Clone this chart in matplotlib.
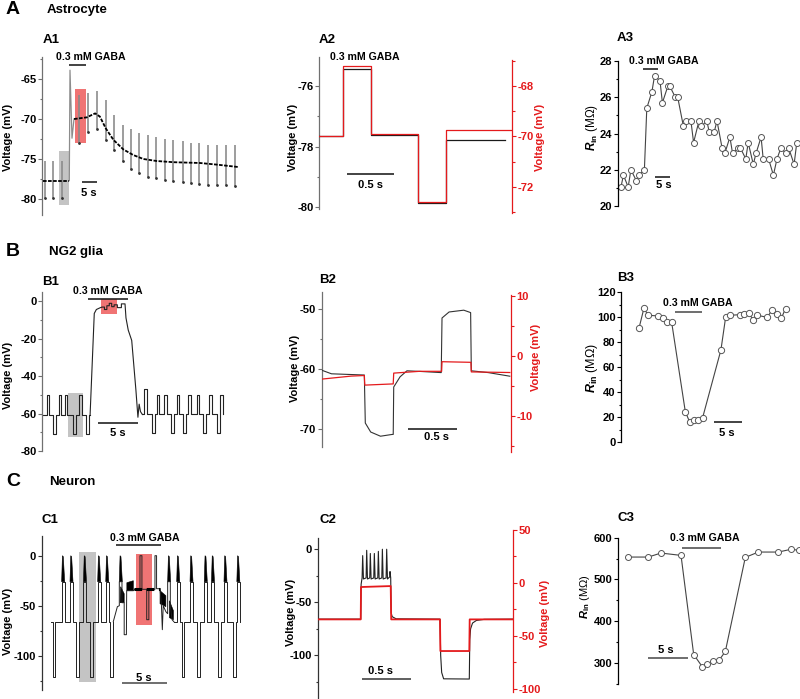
import matplotlib
matplotlib.use('Agg')
import matplotlib.pyplot as plt
from matplotlib.patches import Rectangle, Polygon
from matplotlib.ticker import MultipleLocator

W, H = 800, 699
plt.rcParams['font.family'] = ['Liberation Sans', 'DejaVu Sans']
plt.rcParams['font.weight'] = 'bold'
plt.rcParams['axes.unicode_minus'] = False
plt.rcParams['mathtext.fontset'] = 'custom'
plt.rcParams['mathtext.rm'] = 'Liberation Sans:bold'
plt.rcParams['mathtext.it'] = 'Liberation Sans:italic:bold'
plt.rcParams['mathtext.bf'] = 'Liberation Sans:bold'

RED = '#e41a1c'
# ---------------- data ----------------
# A1 (time s, mV)
a1_pre_t = [0.45, 9.0]
a1_pre_v = [-77.7, -77.7]
a1_jump_t = [9.1, 9.33, 10.0, 10.67]
a1_jump_v = [-77.7, -63.9, -72.4, -70.0]
a1_base_t = [10.67, 14.9, 17.7, 19.3, 21.3, 23.8, 27.1, 30.4, 33.8, 38.2, 43.8, 52.7, 58.2, 65.4]
a1_base_v = [-70.0, -69.8, -69.3, -69.7, -71.2, -72.6, -73.8, -74.5, -75.0, -75.25, -75.4, -75.5, -75.7, -76.0]
a1_pulse_t = [1.0, 3.8, 6.8, 12.4, 15.2, 18.2, 21.3, 24.1, 26.9, 29.7, 32.4, 35.2, 38.0, 41.0,
              43.8, 46.9, 49.7, 52.4, 55.4, 58.2, 61.2, 64.3]
a1_pulse_top = [-75.3, -75.3, -75.3, -67.0, -66.8, -66.5, -67.6, -69.5, -70.75, -71.25, -71.8, -72.0,
                -72.2, -72.5, -72.6, -72.8, -73.0, -73.0, -73.2, -73.25, -73.3, -73.3]
a1_pulse_bot = [-79.9, -79.9, -79.9, -73.0, -71.6, -71.3, -72.6, -73.9, -75.3, -76.2, -76.8, -77.2,
                -77.4, -77.6, -77.8, -77.9, -78.0, -78.1, -78.2, -78.25, -78.3, -78.4]

# A2 steps (s, mV)
a2_black_t = [0, 0.25, 0.547, 1.045, 1.337, 1.96]
a2_black_v = [-77.65, -75.45, -77.6, -79.85, -77.78, -77.78]
a2_red_t = [0, 0.25, 0.547, 1.045, 1.337, 2.03]
a2_red_v = [-70.0, -67.2, -69.9, -72.62, -69.75, -69.75]

# A3 Rin
a3_t = [1.1, 1.9, 3.5, 4.4, 6.2, 7.1, 8.9, 9.7, 11.4, 12.3, 14.1, 14.9, 16.7, 17.4, 19.2, 20.0,
        21.9, 22.7, 24.4, 25.3, 27.1, 27.9, 29.7, 30.5, 32.2, 33.1, 34.8, 35.7, 37.4, 38.3, 40.0,
        40.9, 42.7, 43.5, 45.2, 46.1, 47.8, 48.5, 50.3, 51.9, 53.1, 54.4, 56.1, 57.0, 58.8, 59.7]
a3_r = [21.05, 21.7, 21.05, 22.0, 21.4, 21.7, 22.0, 25.4, 26.3, 27.2, 26.9, 25.7, 26.6, 26.6, 26.0,
        26.0, 24.4, 24.7, 24.7, 23.5, 24.7, 24.4, 24.7, 24.1, 24.1, 24.7, 23.2, 22.9, 23.8, 22.9,
        23.2, 23.2, 22.6, 23.5, 22.3, 22.9, 23.8, 22.6, 22.6, 21.7, 22.6, 23.2, 22.9, 23.2, 22.3, 23.5]

# B1
b1_pre_ups = [0.55, 2.07, 2.81, 4.58]
b1_pre_downs = [1.36, 3.77, 5.42]
b1_gaba_t = [5.92, 6.44, 6.7, 7.2, 7.4, 7.7, 7.7, 8.0, 8.0, 8.3, 8.3, 8.6, 8.6, 8.9, 8.9, 9.3, 9.3,
             9.8, 9.8, 10.25, 10.37, 10.65, 11.08, 11.6, 11.78, 11.85, 12.0, 12.17, 12.4]
b1_gaba_v = [-61, -6.6, -4.5, -3.5, -3.2, -3.2, -4.5, -4.5, -2.5, -2.5, -1.2, -1.2, -3.0, -3.0, -2.0,
             -2.0, -3.5, -3.5, -1.5, -1.5, -9, -15.5, -21, -47.5, -58, -62, -55, -59, -60.5]
b1_post_ups = [12.64, 14.18, 15.12, 16.65, 18.09, 19.13, 20.69, 22.05]
b1_post_up_v = [-47, -50, -50, -50, -50, -50, -50, -50]
b1_post_downs = [13.56, 15.95, 17.4, 19.95, 21.61]

# B2
b2_black_t = [0, 0.1, 0.43, 0.435, 0.445, 0.5, 0.6, 0.72, 0.73, 0.735, 0.8, 0.87, 1.0, 1.22, 1.228,
              1.3, 1.45, 1.52, 1.527, 1.7, 1.92]
b2_black_v = [-60.2, -60.8, -61.0, -61.0, -69.0, -70.5, -71.2, -70.9, -70.9, -63.0, -61.3, -60.3,
              -60.4, -60.6, -51.5, -50.5, -50.2, -50.6, -60.3, -60.6, -61.2]
b2_red_t = [0, 0.3, 0.435, 0.44, 0.73, 0.735, 1.0, 1.224, 1.228, 1.523, 1.527, 1.92]
b2_red_v = [-3.9, -3.4, -3.3, -4.9, -4.7, -2.9, -2.6, -2.6, -1.0, -1.1, -2.7, -2.8]

# B3
b3_t = [3.25, 4.16, 4.88, 6.75, 7.53, 8.31, 9.16, 11.63, 12.41, 13.13, 13.98, 14.76, 18.07, 18.92,
        19.7, 21.5, 22.23, 23.13, 23.92, 24.64, 26.45, 27.29, 28.13, 28.98, 29.76]
b3_r = [91.2, 107.5, 101.6, 101.1, 99.5, 96, 96, 24.5, 16.3, 18.1, 17.6, 19.7, 73.9, 100, 101.6,
        102.1, 102.7, 103.5, 97.6, 101.6, 100, 105.6, 102.7, 99.2, 107]

# C1
c1_pre_ups = [2.25, 3.19, 4.71, 6.31, 7.22]
c1_pre_downs = [1.27, 3.87, 5.5, 7.75]
c1_gaba_t = [8.07, 8.53, 8.75, 8.75, 9.05, 9.05, 9.3, 9.3, 9.55, 9.58, 10.33, 10.5, 11.08, 11.08,
             11.3, 11.3, 11.84, 11.84, 12.08, 12.08, 12.77, 12.77, 12.95, 12.95, 13.34, 13.5, 13.6,
             13.7, 14.0, 14.2, 14.2, 14.5, 14.5, 14.7, 14.9]
c1_gaba_v = [-66, -51, -50, -26, -26, -47, -47, -79, -79, -35, -35, -33.6, -33.6, 0, 0, -33.6,
             -33.6, -64, -64, -33.6, -33.6, 0, 0, -33, -33, -50, -74, -50, -56, -58, -26, -26, -50,
             -64, -66]
c1_gaba_bursts = [8.75, 14.2]
c1_blob_t = [[8.84, 8.9, 9.3, 9.3], [9.6, 9.6, 10.33, 10.33], [13.34, 14.0, 14.0, 13.34],
             [14.4, 14.85, 14.85, 14.4]]
c1_blob_v = [[-47, -31, -38, -47], [-35, -27, -25, -35], [-35, -40, -51, -48], [-45, -55, -64, -62]]
c1_dash_t = [10.4, 13.3]
c1_dash_v = [-33.6, -33.6]
c1_post_ups = [15.22, 16.72, 18.33, 19.14, 20.55, 22.0]
c1_post_downs = [15.78, 17.56, 19.93, 21.62]

# C2
c2_spike_t = [0.459, 0.500, 0.537, 0.578, 0.619, 0.660, 0.704]
c2_spike_peak = [-6, -1, -4, -4, -2, 0, 0]
c2_pre_t = [0.0, 0.439, 0.443]
c2_pre_v = [-65.8, -65.8, -33]
c2_post_t = [0.735, 0.738, 0.745, 0.75, 0.76, 0.8, 1.248, 1.255, 1.265, 1.285, 1.547, 1.552, 1.56,
             1.58, 1.62, 1.7, 1.996]
c2_post_v = [-26, -21, -27, -60, -63.5, -65.5, -65.8, -100, -116, -122, -122.2, -85, -75, -69.5,
             -67, -66, -65.8]
c2_red_t = [0, 0.439, 0.442, 0.745, 0.75, 1.248, 1.252, 1.547, 1.551, 1.996]
c2_red_v = [-34.5, -34.5, -4, -3.1, -34.5, -34.5, -64.3, -64.3, -34.5, -34.5]

# C3
c3_t = [1.27, 3.81, 5.42, 7.97, 9.58, 10.68, 11.31, 12.08, 12.84, 13.6, 16.14, 17.8, 20.34, 21.9, 23.0]
c3_r = [553.6, 553.6, 563.2, 557.6, 320, 290.4, 296.8, 304.8, 307.2, 327.2, 552.8, 565.6, 565.6, 572, 570]

# ---------------- helpers ----------------
fig = plt.figure(figsize=(8, 6.99), dpi=100)


def add_ax(l, t, r, b):
    ax = fig.add_axes([l / W, 1 - b / H, (r - l) / W, (b - t) / H])
    ax.patch.set_alpha(0)
    return ax


def ftext(x, y, s, **kw):
    kw.setdefault('ha', 'left')
    kw.setdefault('va', 'center')
    fig.text(x / W, 1 - y / H, s, **kw)


def style(ax, color, major, minor, side='left', tcolor='black'):
    for s in ['top', 'bottom', 'right', 'left']:
        ax.spines[s].set_visible(s == side)
    ax.spines[side].set_color(color)
    ax.spines[side].set_linewidth(0.9)
    ax.set_xticks([])
    ax.yaxis.set_ticks_position(side)
    ax.yaxis.set_major_locator(MultipleLocator(major))
    ax.yaxis.set_minor_locator(MultipleLocator(minor))
    ax.tick_params(axis='y', which='major', length=3, width=0.8, pad=1, labelsize=8,
                   color=color, labelcolor=tcolor)
    ax.tick_params(axis='y', which='minor', length=1.8, width=0.8, color=color)


def pulse_train(t0, t1, base, ups, up_lvls, downs, down_lvl, w_up, w_dn):
    ev = [(t, lv, w_up) for t, lv in zip(ups, up_lvls)] + [(t, down_lvl, w_dn) for t in downs]
    ev.sort()
    xs, ys = [t0], [base]
    for t, lv, w in ev:
        xs += [t, t, t + w, t + w]
        ys += [base, lv, lv, base]
    xs.append(t1)
    ys.append(base)
    return xs, ys


def hbar(ax, t, v, color='#222222'):
    ax.plot(t, [v, v], color=color, lw=1.2, clip_on=False, solid_capstyle='butt')


GRAY_SP = '#707070'
fs_lab = 8

# ---------------- headers ----------------
for x, y, s in [(6, 10, 'A'), (6, 252, 'B'), (6, 482, 'C')]:
    ftext(x, y, s, fontsize=14)
for x, y, s in [(47, 10, 'Astrocyte'), (49, 252, 'NG2 glia'), (49, 482, 'Neuron')]:
    ftext(x, y, s, fontsize=9.5)
for x, y, s in [(43, 40, 'A1'), (319, 40, 'A2'), (617, 38, 'A3'),
                (42.5, 281.7, 'B1'), (319, 280, 'B2'), (617, 278.3, 'B3'),
                (41.7, 520, 'C1'), (319, 520, 'C2'), (617, 517.7, 'C3')]:
    ftext(x, y, s, fontsize=9.5)

# ---------------- A1 ----------------
ax = add_ax(42, 57, 245, 215)
ax.set_xlim(0, 67.67)
ax.set_ylim(-82, -62.25)
style(ax, GRAY_SP, 5, 2.5)
ax.add_patch(Rectangle((5.56, -80.75), 3.54, 6.75, color='#c4c4c4', lw=0, zorder=0))
ax.add_patch(Rectangle((11.1, -73.0), 3.7, 6.8, color='#f07474', lw=0, zorder=0))
ax.vlines(a1_pulse_t, a1_pulse_bot, a1_pulse_top, color='#8c8c8c', lw=1.2, zorder=1)
ax.plot(a1_pulse_t, a1_pulse_bot, ls='none', marker='o', ms=1.0, color='#333333', zorder=2)
ax.plot(a1_jump_t, a1_jump_v, color='#8c8c8c', lw=0.9, zorder=1)
ax.plot(a1_pre_t, a1_pre_v, color='black', lw=1.3, dashes=(2, 0.8), zorder=3)
ax.plot(a1_base_t, a1_base_v, color='black', lw=1.3, dashes=(2, 0.8), zorder=3)
hbar(ax, [9.0, 14.7], -63.25)
hbar(ax, [13.4, 18.4], -77.9)
ftext(90.7, 56.7, '0.3 mM GABA', fontsize=7.6, ha='center')
ftext(89.3, 192.7, '5 s', fontsize=8, ha='center')
ftext(7.7, 137, 'Voltage (mV)', fontsize=fs_lab, ha='center', rotation=90)

# ---------------- A2 ----------------
ax = add_ax(319, 57, 512, 213)
ax.set_xlim(0, 2.032)
ax.set_ylim(-80.19, -75.04)
style(ax, GRAY_SP, 2, 1)
ax.spines['left'].set_bounds(-80.05, -75.04)
ax.step(a2_black_t, a2_black_v, where='post', color='#1a1a1a', lw=0.9, zorder=3)
hbar(ax, [0.292, 0.793], -78.9)
axr = ax.twinx()
axr.set_xlim(0, 2.032)
axr.set_ylim(-73.04, -66.85)
style(axr, RED, 2, 1, side='right', tcolor=RED)
axr.spines['right'].set_bounds(-73.04, -66.97)
axr.step(a2_red_t, a2_red_v, where='post', color=RED, lw=0.9, zorder=2)
ftext(365, 57.3, '0.3 mM GABA', fontsize=7.6, ha='center')
ftext(370.7, 185, '0.5 s', fontsize=8, ha='center')
ftext(293, 137, 'Voltage (mV)', fontsize=fs_lab, ha='center', rotation=90)
ftext(540, 137, 'Voltage (mV)', fontsize=fs_lab, ha='center', rotation=90, color=RED)

# ---------------- A3 ----------------
ax = add_ax(617.7, 61, 800, 206)
ax.set_xlim(0, 60.77)
ax.set_ylim(20, 28)
style(ax, 'black', 2, 1)
ax.plot(a3_t, a3_r, color='#444444', lw=0.8, marker='o', ms=4.3, mfc='white', mec='#555555', mew=0.7)
hbar(ax, [8.33, 13.53], 27.54)
hbar(ax, [12.4, 17.4], 21.59)
ftext(663.5, 61, '0.3 mM GABA', fontsize=7.6, ha='center')
ftext(664, 185, '5 s', fontsize=8, ha='center')
ftext(592, 127.5, r'$\mathit{R}_{\mathrm{in}}$ (MΩ)', fontsize=8.5, ha='center', rotation=90,
      fontweight='normal')

# ---------------- B1 ----------------
ax = add_ax(42.3, 291.7, 225, 451)
ax.set_xlim(0, 22.64)
ax.set_ylim(-80, 5)
style(ax, GRAY_SP, 20, 10)
ax.add_patch(Rectangle((3.22, -72.7), 1.86, 23.5, color='#c4c4c4', lw=0, zorder=0))
ax.add_patch(Rectangle((7.24, -7.1), 1.98, 8.0, color='#f07474', lw=0, zorder=0))
x, y = pulse_train(0.1, 5.92, -61, b1_pre_ups, [-50] * len(b1_pre_ups), b1_pre_downs, -71, 0.3, 0.35)
ax.plot(x, y, color='#222222', lw=0.8)
ax.plot(b1_gaba_t, b1_gaba_v, color='#222222', lw=0.8)
x, y = pulse_train(12.4, 22.43, -60.5, b1_post_ups, b1_post_up_v, b1_post_downs, -70.5, 0.3, 0.35)
ax.plot(x, y, color='#222222', lw=0.8)
hbar(ax, [5.70, 10.66], 1.1)
hbar(ax, [6.86, 11.86], -65.2)
ftext(108.3, 291, '0.3 mM GABA', fontsize=7.6, ha='center')
ftext(118.3, 433.3, '5 s', fontsize=8, ha='center')
ftext(8.3, 375, 'Voltage (mV)', fontsize=fs_lab, ha='center', rotation=90)

# ---------------- B2 ----------------
ax = add_ax(321.7, 291.7, 510.7, 451.7)
ax.set_xlim(0, 1.929)
ax.set_ylim(-73.78, -47.12)
style(ax, GRAY_SP, 10, 5)
ax.spines['left'].set_bounds(-73.05, -47.12)
ax.plot(b2_black_t, b2_black_v, color='#333333', lw=0.8, zorder=3)
hbar(ax, [0.884, 1.384], -70)
axr = ax.twinx()
axr.set_xlim(0, 1.929)
axr.set_ylim(-16, 10.67)
style(axr, RED, 10, 5, side='right', tcolor=RED)
axr.spines['right'].set_bounds(-16, 10.1)
axr.plot(b2_red_t, b2_red_v, color=RED, lw=0.9, zorder=2)
ftext(436, 436.7, '0.5 s', fontsize=8, ha='center')
ftext(295, 368, 'Voltage (mV)', fontsize=fs_lab, ha='center', rotation=90)
ftext(536, 357, 'Voltage (mV)', fontsize=fs_lab, ha='center', rotation=90, color=RED)

# ---------------- B3 ----------------
ax = add_ax(621, 292.3, 790, 442.3)
ax.set_xlim(0, 30.56)
ax.set_ylim(0, 120)
style(ax, 'black', 20, 10)
ax.plot(b3_t, b3_r, color='#444444', lw=0.8, marker='o', ms=4.5, mfc='white', mec='#555555', mew=0.7)
hbar(ax, [9.76, 14.7], 104.5, color='#555555')
hbar(ax, [16.8, 21.8], 16)
ftext(697.7, 302.7, '0.3 mM GABA', fontsize=7.6, ha='center')
ftext(727.3, 433.3, '5 s', fontsize=8, ha='center')
ftext(592, 368, r'$\mathit{R}_{\mathrm{in}}$ (MΩ)', fontsize=9, ha='center', rotation=90,
      fontweight='normal')

# ---------------- C1 ----------------
ax = add_ax(41.7, 536, 245, 690)
ax.set_xlim(0, 22.92)
ax.set_ylim(-134.3, 19.7)
style(ax, '#333333', 50, 25)
ax.add_patch(Rectangle((4.24, -126.6), 1.88, 130.6, color='#c4c4c4', lw=0, zorder=0))
ax.add_patch(Rectangle((10.63, -69), 1.84, 70.7, color='#f07474', lw=0, zorder=0))
W_UP = 0.34
x, y = pulse_train(1.0, 8.07, -66, c1_pre_ups, [-26] * len(c1_pre_ups), c1_pre_downs, -121, W_UP, 0.28)
ax.plot(x, y, color='#222222', lw=0.7)
ax.plot(c1_gaba_t, c1_gaba_v, color='#222222', lw=0.7)
x, y = pulse_train(14.9, 22.36, -66, c1_post_ups, [-26] * len(c1_post_ups), c1_post_downs, -121, W_UP, 0.28)
ax.plot(x, y, color='#222222', lw=0.7)
for t0 in c1_pre_ups + c1_gaba_bursts + c1_post_ups:
    ax.add_patch(Polygon([(t0, -26), (t0 + 0.25 * W_UP, 0), (t0 + 0.55 * W_UP, -1), (t0 + W_UP, -26)],
                         closed=True, color='black', lw=0.4))
for bt, bv in zip(c1_blob_t, c1_blob_v):
    ax.add_patch(Polygon(list(zip(bt, bv)), closed=True, color='black', lw=0.4))
ax.plot(c1_dash_t, c1_dash_v, color='black', lw=2.2, dashes=(2.5, 1.5))
hbar(ax, [8.34, 13.42], 10.7)
hbar(ax, [9.09, 14.09], -127.6, color='#555555')
ftext(145, 537.7, '0.3 mM GABA', fontsize=7.6, ha='center')
ftext(144, 677.7, '5 s', fontsize=8, ha='center')
ftext(7.7, 621, 'Voltage (mV)', fontsize=fs_lab, ha='center', rotation=90)

# ---------------- C2 ----------------
ax = add_ax(317.7, 528, 513.3, 699)
ax.set_xlim(0, 1.996)
ax.set_ylim(-141, 20.0)
style(ax, '#333333', 50, 25)
ax.spines['left'].set_bounds(-141, 10.3)
bx, by = list(c2_pre_t), list(c2_pre_v)
for t, p in zip(c2_spike_t, c2_spike_peak):
    bx += [t - 0.006, t, t + 0.008]
    by += [-27, p, -28]
bx += c2_post_t
by += c2_post_v
ax.plot(bx, by, color='#222222', lw=0.8, zorder=3)
hbar(ax, [0.449, 0.949], -121.9, color='#444444')
axr = ax.twinx()
axr.set_xlim(0, 1.996)
axr.set_ylim(-109.5, 51.6)
style(axr, RED, 50, 25, side='right', tcolor=RED)
axr.spines['right'].set_bounds(-103, 50)
axr.plot(c2_red_t, c2_red_v, color=RED, lw=1.3, zorder=2)
ftext(381, 671, '0.5 s', fontsize=8, ha='center')
ftext(291, 612, 'Voltage (mV)', fontsize=fs_lab, ha='center', rotation=90)
ftext(545, 613, 'Voltage (mV)', fontsize=fs_lab, ha='center', rotation=90, color=RED)

# ---------------- C3 ----------------
ax = add_ax(618.3, 537.7, 800, 683.7)
ax.set_xlim(0, 23.09)
ax.set_ylim(250, 600)
style(ax, 'black', 100, 50)
ax.plot(c3_t, c3_r, color='#444444', lw=0.8, marker='o', ms=4.3, mfc='white', mec='#555555', mew=0.7)
hbar(ax, [8.05, 13.05], 574.4, color='#555555')
hbar(ax, [3.81, 8.81], 312, color='#555555')
ftext(705, 538.3, '0.3 mM GABA', fontsize=7.6, ha='center')
ftext(666, 650, '5 s', fontsize=8, ha='center')
ftext(585, 597, r'$\mathit{R}_{\mathrm{in}}$ (MΩ)', fontsize=8, ha='center', rotation=90,
      fontweight='normal')

fig.savefig('out.png', dpi=100)
